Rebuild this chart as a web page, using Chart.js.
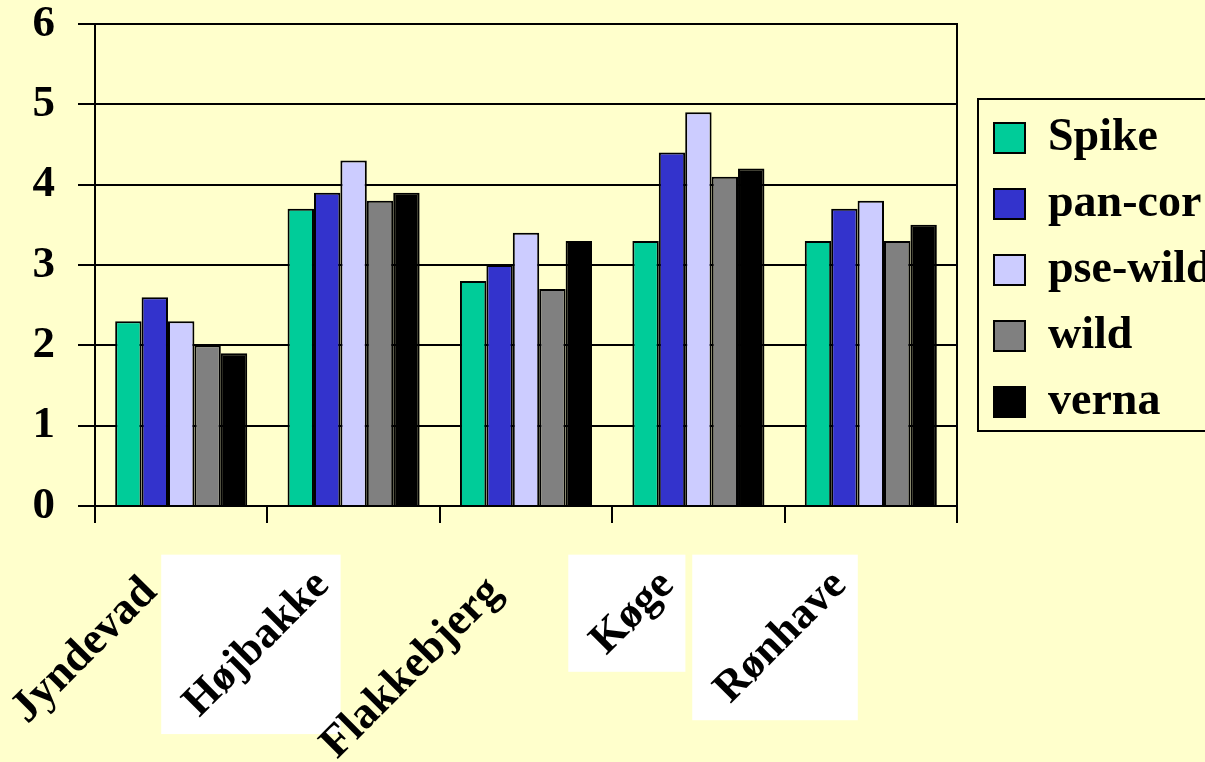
<!DOCTYPE html>
<html>
<head>
<meta charset="utf-8">
<script src="https://cdn.jsdelivr.net/npm/chart.js@4.4.1/dist/chart.umd.min.js"></script>
<style>
  html, body { margin: 0; padding: 0; background: #ffffcc; }
  canvas { display: block; }
</style>
</head>
<body>
<canvas id="barChart" width="1205" height="762"></canvas>
<script>
// data
const sites = ['Jyndevad', 'Højbakke', 'Flakkebjerg', 'Køge', 'Rønhave'];
const seriesNames = ['Spike', 'pan-cor', 'pse-wild', 'wild', 'verna'];
const spike   = [2.3, 3.7, 2.8, 3.3, 3.3];
const panCor  = [2.6, 3.9, 3.0, 4.4, 3.7];
const pseWild = [2.3, 4.3, 3.4, 4.9, 3.8];
const wild    = [2.0, 3.8, 2.7, 4.1, 3.3];
const verna   = [1.9, 3.9, 3.3, 4.2, 3.5];
const yTickValues = [0, 1, 2, 3, 4, 5, 6];

const serif = '"Liberation Serif", "Times New Roman", serif';
const colors = ['#00cc99', '#3333cc', '#ccccff', '#808080', '#000000'];
// on the slide these three names were pasted in as pictures on a white patch
const boxedLabels = ['Højbakke', 'Køge', 'Rønhave'];
const isBoxed = i => boxedLabels.includes(sites[i]);
const boxedSize = 44;
const boxedShift = -37;

const labelPatches = {
    id: 'labelPatches',
    beforeDraw(chart) {
        const x = chart.scales.x;
        const o = x.options;
        const ctx = chart.ctx;
        const k = Math.SQRT1_2;
        ctx.save();
        ctx.fillStyle = '#ffffff';
        sites.forEach((name, i) => {
            if (!isBoxed(i)) return;
            ctx.font = 'bold ' + boxedSize + 'px ' + serif;
            const w = ctx.measureText(name).width;
            const h = boxedSize * 0.9;
            const ax = x.getPixelForTick(i) + boxedShift;
            const ay = x.top + o.grid.tickLength + o.ticks.padding + k * boxedSize * 0.6;
            const pad = 10;
            const left = ax - k * (w + h / 2) - pad;
            const right = ax + k * h / 2 + pad;
            const top = ay - k * h / 2 - pad;
            const bottom = ay + k * (w + h / 2) + pad;
            ctx.fillRect(left, top, right - left, bottom - top);
        });
        ctx.restore();
    }
};

const legendFrame = {
    id: 'legendFrame',
    afterDraw(chart) {
        const lg = chart.legend;
        const hb = lg.legendHitBoxes;
        if (!hb || !hb.length) return;
        const last = hb[hb.length - 1];
        const top = hb[0].top - 16;
        const bottom = last.top + last.height + 6;
        const ctx = chart.ctx;
        ctx.save();
        ctx.strokeStyle = '#000';
        ctx.lineWidth = 2;
        ctx.strokeRect(lg.left + 4, top, chart.width, bottom - top);
        ctx.restore();
    }
};

const seriesValues = [spike, panCor, pseWild, wild, verna];

new Chart(document.getElementById('barChart'), {
    type: 'bar',
    data: {
        labels: sites,
        datasets: seriesNames.map((name, i) => ({
            label: name,
            data: seriesValues[i],
            backgroundColor: colors[i],
            borderColor: '#000',
            borderWidth: 2,
            categoryPercentage: 0.766,
            barPercentage: 1.0
        }))
    },
    options: {
        responsive: false,
        animation: false,
        layout: { padding: { top: 24, left: 0, right: 0, bottom: 0 } },
        plugins: {
            tooltip: { enabled: false },
            legend: {
                position: 'right',
                align: 'center',
                fullSize: false,
                maxWidth: 231,
                // empty title only nudges the rows down a little
                title: { display: true, text: ' ', padding: 0, font: { size: 10, lineHeight: 1 } },
                labels: {
                    boxWidth: 31,
                    boxHeight: 30,
                    padding: 20,
                    color: '#000',
                    font: { family: serif, size: 46, weight: 'bold' }
                }
            }
        },
        scales: {
            x: {
                grid: { offset: true, drawOnChartArea: false, color: '#000', lineWidth: 2, tickLength: 17 },
                border: { display: true, color: '#000', width: 2 },
                ticks: {
                    autoSkip: false,
                    minRotation: 45,
                    maxRotation: 45,
                    padding: 37,
                    labelOffset: c => isBoxed(c.index) ? boxedShift : -31,
                    color: '#000',
                    font: c => isBoxed(c.index)
                        ? { family: serif, size: boxedSize, weight: 'bold', lineHeight: 1.2 }
                        : { family: serif, size: 45, weight: 'bold', lineHeight: 1.6 }
                },
                afterFit: s => { s.height = 256; s.paddingLeft = 0; s.paddingRight = 0; }
            },
            y: {
                min: 0,
                max: 6,
                grid: { color: '#000', lineWidth: 2, tickLength: 17 },
                border: { color: '#000', width: 2 },
                afterBuildTicks: s => { s.ticks = yTickValues.map(v => ({ value: v })); },
                ticks: {
                    padding: 23,
                    color: '#000',
                    font: { family: serif, size: 45, weight: 'bold', lineHeight: 0.1 }
                },
                afterFit: s => { s.width = 95; s.paddingTop = 0; s.paddingBottom = 0; }
            },
            frame: {
                type: 'linear',
                position: 'right',
                display: true,
                grid: { display: false, drawTicks: false },
                border: { display: true, color: '#000', width: 2 },
                ticks: { display: false },
                afterFit: s => { s.width = 17; s.paddingTop = 0; s.paddingBottom = 0; }
            }
        }
    },
    plugins: [labelPatches, legendFrame]
});
</script>
</body>
</html>
